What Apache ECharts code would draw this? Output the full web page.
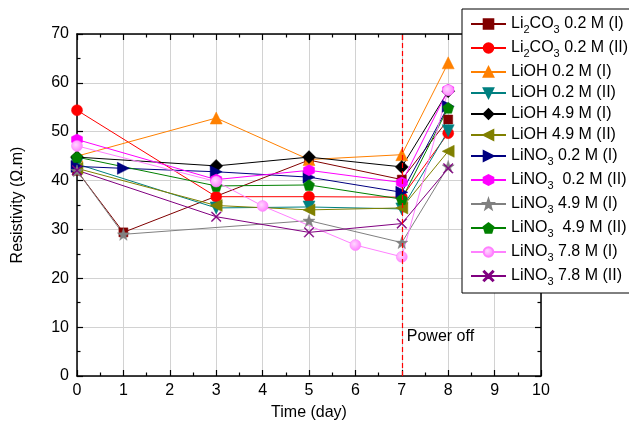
<!DOCTYPE html>
<html>
<head>
<meta charset="utf-8">
<script src="https://cdn.jsdelivr.net/npm/echarts@6/dist/echarts.min.js"></script>
<style>
  html, body { margin: 0; padding: 0; background: #fff; }
  #chart { width: 629px; height: 430px; }
</style>
</head>
<body>
<div id="chart"></div>
<script>
// Sampling days (x positions); null = no measurement that day
const days = [0, 1, 3, 4, 5, 6, 7, 8];

// Resistivity (Ω.m) per electrolyte, aligned with `days`
const li2co3_02_I   = [42.0, 29.4, null, null, 44.2, null, 40.2, 52.5];
const li2co3_02_II  = [54.4, null, 36.7, null, 36.7, null, 36.6, 49.7];
const lioh_02_I     = [45.0, null, 52.8, null, 44.3, null, 45.3, 64.1];
const lioh_02_II    = [43.4, null, 34.4, null, 34.6, null, 34.2, 50.2];
const lioh_49_I     = [44.8, null, 43.0, null, 44.8, null, 42.8, 58.3];
const lioh_49_II    = [42.5, null, 34.9, null, 34.0, null, 34.4, 46.0];
const lino3_02_I    = [42.9, 42.5, 41.8, null, 40.7, null, 37.6, 55.2];
const lino3_02_II   = [48.4, null, 40.2, null, 42.1, null, 39.6, 58.6];
const lino3_49_I    = [42.0, 29.0, null, null, 31.8, null, 27.3, 42.9];
const lino3_49_II   = [44.8, null, 38.9, null, 39.1, null, 36.2, 54.9];
const lino3_78_I    = [47.1, null, 39.8, 34.8, null, 26.8, 24.4, 58.5];
const lino3_78_II   = [42.1, null, 32.6, null, 29.4, null, 31.2, 42.5];

// Series names
const seriesNames = [
  'Li2CO3 0.2 M (I)', 'Li2CO3 0.2 M (II)',
  'LiOH 0.2 M (I)', 'LiOH 0.2 M (II)',
  'LiOH 4.9 M (I)', 'LiOH 4.9 M (II)',
  'LiNO3 0.2 M (I)', 'LiNO3  0.2 M (II)',
  'LiNO3 4.9 M (I)', 'LiNO3  4.9 M (II)',
  'LiNO3 7.8 M (I)', 'LiNO3 7.8 M (II)'
];
const seriesValues = [
  li2co3_02_I, li2co3_02_II, lioh_02_I, lioh_02_II, lioh_49_I, lioh_49_II,
  lino3_02_I, lino3_02_II, lino3_49_I, lino3_49_II, lino3_78_I, lino3_78_II
];

// Axis setup
const xMin = 0, xMax = 10, xStep = 1;
const yMin = 0, yMax = 70, yStep = 10;
const powerOffDay = 7;
const powerOffLabel = 'Power off';

// Marker shapes
const HEXAGON = 'path://M0,-10 L8.66,-5 L8.66,5 L0,10 L-8.66,5 L-8.66,-5 Z';
const STAR = 'path://M0,-10 L2.35,-3.24 L9.51,-3.09 L3.80,1.24 L5.88,8.09 L0,4 L-5.88,8.09 L-3.80,1.24 L-9.51,-3.09 L-2.35,-3.24 Z';
const PENTAGON = 'path://M0,-10 L9.51,-3.09 L5.88,8.09 L-5.88,8.09 L-9.51,-3.09 Z';
const CROSS = 'path://M-10,-8.6 L-8.6,-10 L0,-1.4 L8.6,-10 L10,-8.6 L1.4,0 L10,8.6 L8.6,10 L0,1.4 L-8.6,10 L-10,8.6 L-1.4,0 Z';

const styles = [
  { color: '#800000', symbol: 'rect', size: 9 },
  { color: '#ff0000', symbol: 'circle', size: 11 },
  { color: '#ff8000', symbol: 'triangle', size: 12 },
  { color: '#008080', symbol: 'triangle', size: 12, rotate: 180 },
  { color: '#000000', symbol: 'diamond', size: 13 },
  { color: '#808000', symbol: 'triangle', size: 12, rotate: 90 },
  { color: '#000080', symbol: 'triangle', size: 12, rotate: -90 },
  { color: '#ff00ff', symbol: HEXAGON, size: 11 },
  { color: '#808080', symbol: STAR, size: 12 },
  { color: '#008000', symbol: PENTAGON, size: 11 },
  { color: '#ff80ff', symbol: 'circle', size: 11,
    fill: { type: 'radial', x: 0.4, y: 0.4, r: 0.6,
      colorStops: [{ offset: 0, color: '#ffd8ff' }, { offset: 1, color: '#ff80ff' }] } },
  { color: '#800080', symbol: CROSS, size: 10 }
];

const FONT = 'Liberation Sans, Arial, Helvetica, sans-serif';

// Chemical formulae with subscript digits for legend text
function legendText(name) {
  const m = name.match(/^(\S+)(\s.*)$/);
  const formula = m[1], rest = m[2];
  const parts = formula.split(/(\d)/).filter(s => s.length);
  let out = '';
  parts.forEach(p => { out += /^\d$/.test(p) ? '{s|' + p + '}' : '{t|' + p + '}'; });
  return out + '{t|' + rest + '}';
}

const series = seriesNames.map((name, i) => {
  const st = styles[i];
  const data = [];
  seriesValues[i].forEach((v, k) => { if (v !== null) data.push([days[k], v]); });
  return {
    name: name,
    type: 'line',
    data: data,
    color: st.color,
    symbol: st.symbol,
    symbolSize: st.size,
    symbolRotate: st.rotate || 0,
    showSymbol: true,
    lineStyle: { width: 1, color: st.color },
    itemStyle: { color: st.fill || st.color, borderColor: st.color, borderWidth: 0.5 },
    emphasis: { disabled: true },
    z: 3
  };
});

// Dashed marker for the power-off day
series.push({
  type: 'line',
  data: [],
  silent: true,
  markLine: {
    symbol: 'none',
    silent: true,
    label: { show: false },
    lineStyle: { color: '#ff0000', type: [5, 3], width: 1.2 },
    data: [{ xAxis: powerOffDay }]
  },
  z: 4
});

const axisLineStyle = { color: '#000', width: 1.5 };
const tickStyle = { color: '#000', width: 1.2 };

const chart = echarts.init(document.getElementById('chart'), null, { renderer: 'canvas' });
chart.setOption({
  animation: false,
  backgroundColor: '#ffffff',
  textStyle: { fontFamily: FONT },
  grid: { left: 77, right: 88, top: 34, bottom: 54, containLabel: false },
  legend: {
    orient: 'vertical',
    left: 462,
    top: 9,
    padding: [7, 6, 6, 8],
    itemGap: 5,
    itemWidth: 35,
    itemHeight: 12,
    itemTextGap: 5,
    backgroundColor: '#ffffff',
    borderColor: '#000000',
    borderWidth: 1,
    borderRadius: 0,
    selectedMode: false,
    data: seriesNames,
    formatter: legendText,
    textStyle: {
      fontFamily: FONT,
      color: '#000',
      rich: {
        t: { fontFamily: FONT, fontSize: 16, color: '#000', lineHeight: 18 },
        s: { fontFamily: FONT, fontSize: 11, color: '#000', padding: [11, 0, 0, 0] }
      }
    }
  },
  xAxis: [{
    type: 'value', min: xMin, max: xMax, interval: xStep,
    name: 'Time (day)', nameLocation: 'middle', nameGap: 29,
    nameTextStyle: { fontFamily: FONT, fontSize: 16, color: '#000' },
    axisLine: { show: true, onZero: false, lineStyle: axisLineStyle },
    axisTick: { show: true, inside: true, length: 6, lineStyle: tickStyle },
    minorTick: { show: true, splitNumber: 2, length: 3.5, lineStyle: tickStyle },
    axisLabel: { fontFamily: FONT, fontSize: 16, color: '#000', margin: 7 },
    splitLine: { show: true, lineStyle: { color: '#d2d2d2', width: 1 } }
  }, {
    type: 'value', min: xMin, max: xMax, interval: xStep, position: 'top',
    axisLine: { show: true, onZero: false, lineStyle: axisLineStyle },
    axisTick: { show: true, inside: true, length: 6, lineStyle: tickStyle },
    minorTick: { show: true, splitNumber: 2, length: 3.5, lineStyle: tickStyle },
    axisLabel: { show: false },
    splitLine: { show: false }
  }],
  yAxis: [{
    type: 'value', min: yMin, max: yMax, interval: yStep,
    name: 'Resistivity (\u03A9.m)', nameLocation: 'middle', nameGap: 51,
    nameTextStyle: { fontFamily: FONT, fontSize: 16, color: '#000' },
    axisLine: { show: true, onZero: false, lineStyle: axisLineStyle },
    axisTick: { show: true, inside: true, length: 6, lineStyle: tickStyle },
    minorTick: { show: true, splitNumber: 2, length: 3.5, lineStyle: tickStyle },
    axisLabel: { fontFamily: FONT, fontSize: 16, color: '#000', margin: 8 },
    splitLine: { show: true, lineStyle: { color: '#d2d2d2', width: 1 } }
  }, {
    type: 'value', min: yMin, max: yMax, interval: yStep, position: 'right',
    axisLine: { show: true, onZero: false, lineStyle: axisLineStyle },
    axisTick: { show: true, inside: true, length: 6, lineStyle: tickStyle },
    minorTick: { show: true, splitNumber: 2, length: 3.5, lineStyle: tickStyle },
    axisLabel: { show: false },
    splitLine: { show: false }
  }],
  series: series
});

// "Power off" note placed beside the dashed line through the axis scale
const notePos = chart.convertToPixel({ xAxisIndex: 0, yAxisIndex: 0 }, [powerOffDay, 8]);
chart.setOption({
  graphic: [{
    type: 'text',
    x: notePos[0] + 5,
    y: notePos[1],
    z: 10,
    style: {
      text: powerOffLabel,
      fontFamily: FONT,
      fontSize: 16,
      fill: '#000',
      textAlign: 'left',
      textVerticalAlign: 'middle'
    }
  }]
});
</script>
</body>
</html>
